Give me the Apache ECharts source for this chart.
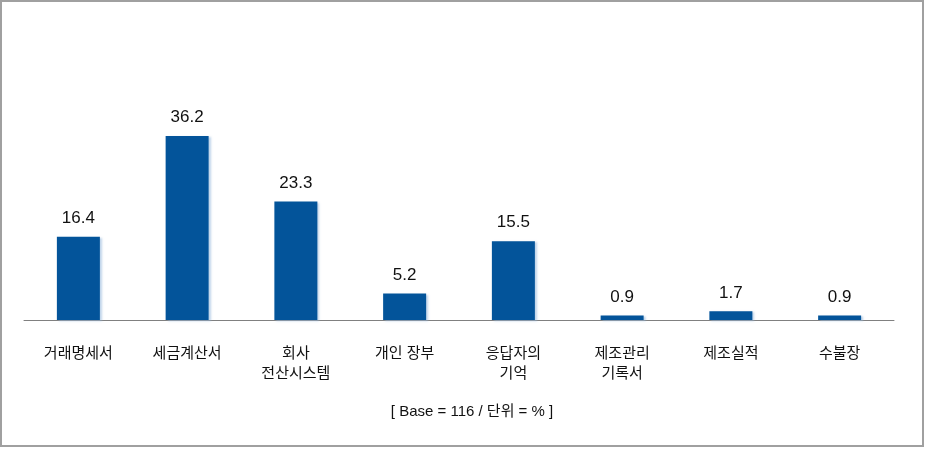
<!DOCTYPE html>
<html><head><meta charset="utf-8">
<script src="https://cdn.jsdelivr.net/npm/echarts@6/dist/echarts.min.js"></script>
<style>html,body{margin:0;padding:0;background:#fff}#c{width:926px;height:449px}</style>
</head><body><div id="c"></div>
<script>
const categories = ['거래명세서','세금계산서','회사\n전산시스템','개인 장부','응답자의\n기억','제조관리\n기록서','제조실적','수불장'];
const values = [16.4, 36.2, 23.3, 5.2, 15.5, 0.9, 1.7, 0.9];
const footer = '[ Base = 116 / 단위 = % ]';
const FF = '"Liberation Sans","Noto Sans CJK KR",sans-serif';
const chart = echarts.init(document.getElementById('c'));
chart.setOption({
  animation: false,
  grid: {left: 24, right: 32, top: 116.7, bottom: 129},
  xAxis: {
    type: 'category', data: categories,
    axisLine: {lineStyle: {color: '#808080', width: 1}},
    axisTick: {show: false},
    axisLabel: {color: '#111', fontSize: 15, fontFamily: FF, margin: 24, lineHeight: 20, interval: 0}
  },
  yAxis: {type: 'value', min: 0, max: 40, show: false, splitLine: {show: false}},
  series: [{
    type: 'bar', data: values, barWidth: 43,
    itemStyle: {color: '#03549A', shadowColor: 'rgba(150,185,220,0.6)', shadowOffsetX: 2, shadowOffsetY: 1, shadowBlur: 2},
    label: {show: true, position: 'top', distance: 10, color: '#111', fontSize: 17, fontFamily: FF}
  }],
  graphic: [
    {type: 'rect', shape: {x: 1, y: 1, width: 922, height: 445}, style: {fill: 'none', stroke: '#a0a0a0', lineWidth: 2}},
    {type: 'text', x: 472, y: 404, style: {text: footer, fill: '#111', fontSize: 15, fontFamily: FF, textAlign: 'center'}}
  ]
});
</script></body></html>
